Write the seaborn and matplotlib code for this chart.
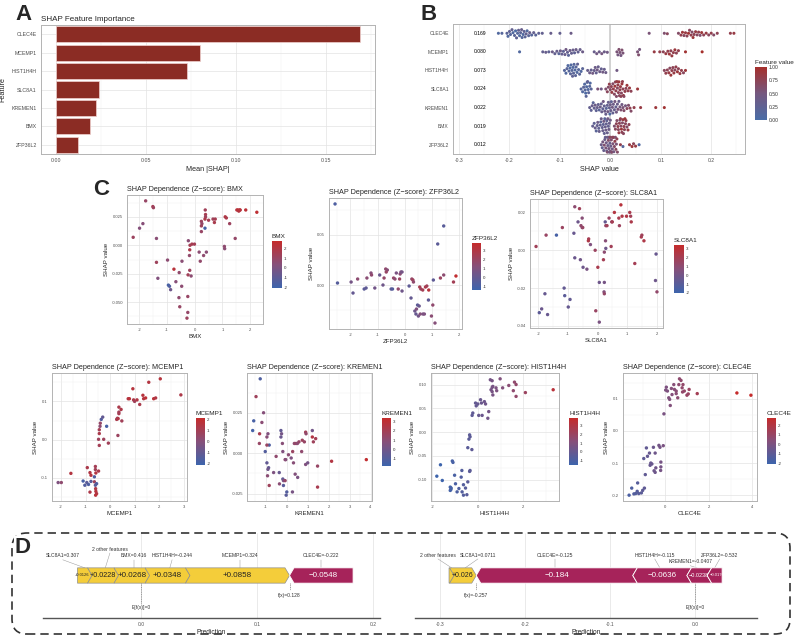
import numpy as np
import pandas as pd
import matplotlib as mpl
import matplotlib.pyplot as plt
import seaborn as sns
from matplotlib.colors import LinearSegmentedColormap, Normalize
from matplotlib.patches import Polygon, FancyBboxPatch
from matplotlib.ticker import MultipleLocator, AutoMinorLocator, FuncFormatter

# ---------------- data ----------------
features = ["CLEC4E", "MCEMP1", "HIST1H4H", "SLC8A1", "KREMEN1", "BMX", "ZFP36L2"]
mean_abs_shap = [0.169, 0.080, 0.073, 0.024, 0.022, 0.019, 0.012]

# beeswarm: (shap value, scaled feature value)
swarm_clec4e = [(-0.222, 0.1), (-0.215, 0.15), (-0.205, 0.2), (-0.203, 0.1), (-0.2, 0.25), (-0.198, 0.15),
                (-0.195, 0.3), (-0.193, 0.1), (-0.19, 0.2), (-0.188, 0.05), (-0.186, 0.25), (-0.184, 0.15),
                (-0.182, 0.3), (-0.18, 0.1), (-0.178, 0.2), (-0.176, 0.35), (-0.175, 0.15), (-0.173, 0.1),
                (-0.171, 0.25), (-0.169, 0.2), (-0.167, 0.3), (-0.165, 0.1), (-0.162, 0.2), (-0.16, 0.35),
                (-0.156, 0.15), (-0.152, 0.3), (-0.148, 0.2), (-0.142, 0.25), (-0.135, 0.3), (-0.118, 0.35),
                (-0.1, 0.3), (-0.078, 0.4),
                (0.077, 0.55), (0.107, 0.6), (0.113, 0.7), (0.135, 0.65), (0.14, 0.8), (0.143, 0.9),
                (0.146, 0.7), (0.149, 0.85), (0.152, 0.75), (0.155, 0.95), (0.157, 0.7), (0.16, 0.8),
                (0.162, 0.65), (0.164, 0.9), (0.166, 0.75), (0.169, 0.85), (0.172, 0.7), (0.175, 0.8),
                (0.178, 0.6), (0.181, 0.9), (0.185, 0.75), (0.19, 0.85), (0.195, 0.7), (0.2, 0.8),
                (0.205, 0.65), (0.212, 0.75), (0.238, 0.8), (0.245, 0.85)]
swarm_mcemp1 = [(-0.18, 0.1), (-0.134, 0.3), (-0.128, 0.35), (-0.122, 0.25), (-0.115, 0.4), (-0.11, 0.3),
                (-0.106, 0.35), (-0.102, 0.2), (-0.099, 0.4), (-0.096, 0.3), (-0.093, 0.25), (-0.09, 0.35),
                (-0.088, 0.45), (-0.085, 0.3), (-0.083, 0.2), (-0.08, 0.4), (-0.077, 0.3), (-0.074, 0.35),
                (-0.071, 0.25), (-0.068, 0.4), (-0.064, 0.3), (-0.06, 0.35), (-0.055, 0.4), (-0.032, 0.35),
                (-0.027, 0.45), (-0.022, 0.4), (-0.017, 0.5), (-0.012, 0.4), (-0.006, 0.45), (0.013, 0.55),
                (0.015, 0.5), (0.017, 0.6), (0.019, 0.55), (0.021, 0.5), (0.023, 0.6), (0.025, 0.55),
                (0.054, 0.55), (0.056, 0.6), (0.058, 0.5), (0.087, 0.85), (0.098, 0.8), (0.105, 0.75),
                (0.11, 0.85), (0.114, 0.8), (0.117, 0.9), (0.12, 0.75), (0.122, 0.85), (0.125, 0.8),
                (0.128, 0.9), (0.131, 0.75), (0.135, 0.8), (0.149, 0.95), (0.182, 1.0)]
swarm_hist1h4h = [(-0.091, 0.15), (-0.088, 0.1), (-0.086, 0.2), (-0.084, 0.1), (-0.082, 0.15), (-0.08, 0.05),
                  (-0.079, 0.2), (-0.078, 0.1), (-0.076, 0.15), (-0.075, 0.25), (-0.074, 0.1), (-0.073, 0.2),
                  (-0.072, 0.15), (-0.07, 0.1), (-0.069, 0.2), (-0.068, 0.15), (-0.066, 0.1), (-0.065, 0.25),
                  (-0.063, 0.15), (-0.061, 0.2), (-0.058, 0.1), (-0.055, 0.2),
                  (-0.045, 0.35), (-0.041, 0.4), (-0.038, 0.3), (-0.035, 0.45), (-0.032, 0.35), (-0.03, 0.4),
                  (-0.028, 0.3), (-0.026, 0.45), (-0.024, 0.35), (-0.021, 0.4), (-0.018, 0.3), (-0.015, 0.45),
                  (-0.012, 0.35), (-0.009, 0.4), (0.013, 0.45),
                  (0.107, 0.7), (0.11, 0.8), (0.113, 0.75), (0.116, 0.85), (0.118, 0.7), (0.12, 0.9),
                  (0.122, 0.8), (0.124, 0.75), (0.126, 0.85), (0.128, 0.7), (0.13, 0.8), (0.133, 0.9),
                  (0.135, 0.75), (0.138, 0.85), (0.141, 0.8), (0.145, 0.7), (0.149, 0.9)]
swarm_slc8a1 = [(-0.058, 0.15), (-0.055, 0.1), (-0.053, 0.2), (-0.051, 0.1), (-0.05, 0.15), (-0.049, 0.05),
                (-0.048, 0.2), (-0.047, 0.1), (-0.046, 0.15), (-0.045, 0.25), (-0.044, 0.1), (-0.043, 0.2),
                (-0.041, 0.15), (-0.04, 0.1), (-0.038, 0.2), (-0.025, 0.55), (-0.018, 0.45),
                (-0.009, 0.6), (-0.006, 0.7), (-0.004, 0.65), (-0.002, 0.8), (0.0, 0.7), (0.002, 0.75),
                (0.003, 0.85), (0.005, 0.65), (0.006, 0.8), (0.008, 0.7), (0.009, 0.9), (0.01, 0.75),
                (0.011, 0.8), (0.012, 0.65), (0.013, 0.85), (0.014, 0.7), (0.015, 0.8), (0.016, 0.75),
                (0.017, 0.9), (0.018, 0.7), (0.019, 0.8), (0.02, 0.85), (0.021, 0.75), (0.022, 0.7),
                (0.023, 0.9), (0.024, 0.8), (0.025, 0.75), (0.026, 0.85), (0.027, 0.7), (0.029, 0.8),
                (0.031, 0.75), (0.033, 0.9), (0.035, 0.8), (0.038, 0.85), (0.041, 0.75), (0.054, 0.9)]
swarm_kremen1 = [(-0.041, 0.3), (-0.038, 0.25), (-0.036, 0.35), (-0.034, 0.2), (-0.032, 0.3), (-0.03, 0.4),
                 (-0.028, 0.25), (-0.026, 0.35), (-0.024, 0.3), (-0.022, 0.2), (-0.02, 0.4), (-0.018, 0.3),
                 (-0.017, 0.35), (-0.015, 0.25), (-0.014, 0.45), (-0.012, 0.3), (-0.011, 0.4), (-0.009, 0.35),
                 (-0.008, 0.2), (-0.006, 0.3), (-0.005, 0.45), (-0.004, 0.35), (-0.002, 0.3), (-0.001, 0.1),
                 (0.0, 0.4), (0.001, 0.35), (0.002, 0.25), (0.004, 0.45), (0.005, 0.3), (0.006, 0.4),
                 (0.008, 0.35), (0.009, 0.5), (0.011, 0.3), (0.012, 0.45), (0.014, 0.4), (0.015, 0.55),
                 (0.017, 0.35), (0.019, 0.5), (0.021, 0.6), (0.023, 0.45), (0.025, 0.55), (0.027, 0.65),
                 (0.03, 0.5), (0.033, 0.7), (0.036, 0.6), (0.039, 0.75), (0.041, 0.65), (0.047, 0.8),
                 (0.06, 0.85), (0.09, 0.9), (0.107, 0.95)]
swarm_bmx = [(-0.035, 0.3), (-0.032, 0.25), (-0.03, 0.35), (-0.028, 0.2), (-0.026, 0.3), (-0.025, 0.4),
             (-0.023, 0.25), (-0.022, 0.35), (-0.02, 0.3), (-0.019, 0.2), (-0.018, 0.4), (-0.016, 0.3),
             (-0.015, 0.35), (-0.014, 0.25), (-0.013, 0.45), (-0.012, 0.3), (-0.011, 0.2), (-0.01, 0.35),
             (-0.009, 0.4), (-0.008, 0.3), (-0.007, 0.25), (-0.006, 0.35), (-0.005, 0.45), (-0.004, 0.3),
             (-0.003, 0.4), (-0.002, 0.35), (0.0, 0.4),
             (0.008, 0.6), (0.01, 0.7), (0.012, 0.75), (0.013, 0.65), (0.015, 0.8), (0.016, 0.7),
             (0.017, 0.85), (0.018, 0.75), (0.019, 0.6), (0.02, 0.8), (0.021, 0.7), (0.022, 0.9),
             (0.023, 0.75), (0.024, 0.65), (0.025, 0.85), (0.026, 0.7), (0.027, 0.8), (0.028, 0.75),
             (0.029, 0.9), (0.03, 0.7), (0.031, 0.8), (0.033, 0.65), (0.035, 0.85), (0.037, 0.75)]
swarm_zfp36l2 = [(-0.018, 0.4), (-0.016, 0.3), (-0.015, 0.5), (-0.013, 0.35), (-0.012, 0.6), (-0.011, 0.4),
                 (-0.01, 0.3), (-0.009, 0.55), (-0.008, 0.45), (-0.007, 0.35), (-0.006, 0.6), (-0.006, 0.5),
                 (-0.005, 0.4), (-0.004, 0.65), (-0.004, 0.3), (-0.003, 0.5), (-0.002, 0.45), (-0.002, 0.6),
                 (-0.001, 0.35), (0.0, 0.55), (0.0, 0.7), (0.001, 0.4), (0.002, 0.6), (0.002, 0.5),
                 (0.003, 0.65), (0.004, 0.45), (0.004, 0.7), (0.005, 0.55), (0.006, 0.6), (0.006, 0.75),
                 (0.007, 0.5), (0.008, 0.65), (0.009, 0.8), (0.01, 0.6), (0.011, 0.7), (0.012, 0.55),
                 (0.013, 0.75), (0.014, 0.65), (0.02, 0.8), (0.025, 0.15), (0.038, 0.85), (0.043, 0.9),
                 (0.046, 0.75), (0.05, 0.85), (0.057, 0.1)]

# dependence plots: (z-score, shap value, colour value); two-element points are coloured by x
dep_bmx = [(-1.77, 0.039, 1.0), (-1.51, 0.034, 1.5), (-1.49, 0.033, 1.2), (-1.87, 0.019, 0.4), (-1.99, 0.015, 0.3),
           (-2.22, 0.007, 1.2), (-1.38, 0.006, 0.5), (-1.38, -0.015, 1.3), (-1.33, -0.029, 0.2), (-0.98, -0.013, 0.6),
           (-0.75, -0.021, 2.3), (-0.95, -0.035, -1.8), (-0.91, -0.036, -1.5), (-0.87, -0.039, -0.5),
           (-0.68, -0.032, 0.4), (-0.56, -0.024, 0.8), (-0.46, -0.014, 0.5), (-0.47, -0.036, 0.6),
           (-0.57, -0.046, 0.7), (-0.54, -0.054, 1.0), (-0.23, 0.004, 0.5), (-0.17, 0.0, 1.5), (-0.18, -0.004, 1.8),
           (-0.19, -0.009, 0.8), (-0.18, -0.022, 1.2), (-0.13, -0.027, 0.6), (-0.24, -0.026, 1.4),
           (-0.25, -0.045, 1.0), (-0.25, -0.059, 0.9), (-0.28, -0.064, 1.2), (-0.10, 0.001, 1.6), (-0.01, 0.001, 1.5),
           (0.16, -0.006, 0.6), (0.20, -0.014, 0.8), (0.24, 0.021, 1.2), (0.26, 0.019, 0.9), (0.24, 0.017, 1.3),
           (0.24, 0.012, 1.0), (0.37, 0.015, -1.8), (0.32, -0.009, 0.7), (0.42, -0.006, 0.5), (0.38, 0.031, 1.4),
           (0.39, 0.027, 1.6), (0.39, 0.025, 1.2), (0.37, 0.023, 1.8), (0.50, 0.022, 1.5), (0.66, 0.023, 1.3),
           (0.71, 0.020, 1.7), (0.74, 0.023, 1.6), (1.08, -0.003, 0.5), (1.07, -0.001, 0.7), (1.10, 0.025, 2.0),
           (1.14, 0.024, 1.8), (1.26, 0.019, 1.2), (1.46, 0.006, 0.9), (1.52, 0.031, 2.2), (1.56, 0.031, 2.4),
           (1.59, 0.030, 2.1), (1.62, 0.031, 2.3), (1.64, 0.031, 2.2), (1.84, 0.031, 2.4), (2.24, 0.029, 2.5)]
dep_zfp36l2 = [(-2.56, 0.081, -0.8), (-2.47, 0.002, -0.5), (-1.97, 0.003, 0.6), (-1.90, -0.008, 0.0),
               (-1.73, 0.006, 1.5), (-1.49, -0.004, -0.3), (-1.42, -0.003, -0.2), (-1.39, 0.007, 1.4),
               (-1.24, 0.012, 1.2), (-1.22, 0.010, 1.6), (-1.10, -0.003, 0.5), (-0.92, 0.010, 0.2), (-0.80, 0.000, 0.4),
               (-0.76, 0.007, 1.8), (-0.70, 0.016, 1.6), (-0.64, 0.015, 1.3), (-0.68, 0.013, 1.9), (-0.50, -0.004, -0.3),
               (-0.45, -0.004, -0.5), (-0.41, 0.007, 1.8), (-0.36, 0.006, 1.5), (-0.31, 0.012, 0.8), (-0.24, -0.004, 1.7),
               (-0.19, 0.006, 2.0), (-0.17, 0.011, 1.4), (-0.14, 0.013, 0.9), (-0.10, 0.013, 0.6), (-0.10, -0.006, 0.4),
               (0.16, -0.001, -0.2), (0.23, -0.013, 0.0), (0.26, 0.006, 1.8), (0.30, 0.005, 2.2), (0.32, 0.003, 1.6),
               (0.37, -0.026, 0.3), (0.41, -0.029, 0.1), (0.43, -0.024, 1.0), (0.47, -0.020, -0.3), (0.53, -0.021, 0.2),
               (0.55, -0.002, 2.6), (0.59, -0.004, 2.2), (0.66, -0.005, 2.4), (0.50, -0.031, 0.5), (0.57, -0.029, 1.2),
               (0.67, -0.029, 0.8), (0.76, -0.002, 2.8), (0.81, -0.001, 2.3), (0.88, -0.005, 3.2), (0.72, -0.029, 0.9),
               (0.87, -0.015, -0.2), (0.98, -0.031, 1.4), (1.03, -0.020, 1.6), (1.05, 0.005, -0.2), (1.11, -0.038, 1.2),
               (1.21, 0.041, -0.3), (1.31, 0.007, 2.0), (1.43, 0.010, 1.5), (1.43, 0.059, -0.4), (1.79, 0.003, 2.4),
               (1.88, 0.009, 3.6)]
dep_slc8a1 = [(-2.08, 0.002, 1.8), (-1.74, 0.008, 1.5), (-1.39, 0.008, -1.6), (-1.78, -0.023, -0.5),
              (-1.89, -0.031, -0.3), (-1.97, -0.033, -0.8), (-1.69, -0.034, -0.4), (-1.13, -0.020, -0.6),
              (-1.11, -0.024, -0.9), (-0.93, -0.026, -0.6), (-0.99, -0.030, -0.5), (-1.19, 0.012, 1.6),
              (-0.77, 0.023, 1.0), (-0.61, 0.022, 1.8), (-0.80, 0.009, -0.4), (-0.66, 0.015, -0.2), (-0.52, 0.017, 0.8),
              (-0.56, 0.013, 1.2), (-0.52, 0.012, 0.9), (-0.50, 0.012, 1.4), (-0.77, -0.004, -0.3), (-0.58, -0.005, -0.1),
              (-0.49, -0.009, -0.2), (-0.36, -0.010, 0.2), (-0.30, 0.006, 2.0), (-0.31, 0.005, 2.4), (-0.24, 0.003, 0.5),
              (-0.08, 0.000, 1.6), (0.01, -0.009, 2.2), (-0.06, -0.032, 1.5), (0.06, -0.038, 0.3), (0.06, -0.017, -0.2),
              (0.20, -0.005, 2.0), (0.23, -0.001, 1.0), (0.26, 0.015, -0.5), (0.28, 0.013, 1.2), (0.27, 0.005, 0.8),
              (0.28, 0.001, -0.2), (0.23, -0.017, 0.1), (0.22, -0.022, 0.6), (0.23, -0.023, 1.3), (0.32, 0.013, 1.8),
              (0.39, 0.017, 1.5), (0.46, 0.002, 1.9), (0.48, 0.015, 1.4), (0.50, 0.015, 2.0), (0.57, 0.020, 2.6),
              (0.72, 0.017, 2.1), (0.74, 0.013, 1.7), (0.79, 0.024, 2.8), (0.83, 0.018, 2.4), (0.98, 0.018, 2.5),
              (1.09, 0.020, 2.2), (1.12, 0.018, 1.9), (1.14, 0.015, 2.3), (1.26, -0.007, 2.0), (1.48, 0.007, 2.1),
              (1.50, 0.008, 1.8), (1.57, 0.005, 2.4), (1.98, -0.002, -0.4), (1.96, -0.016, -0.2), (2.01, -0.022, 1.2)]
dep_mcemp1 = [(-2.12, -0.112, -0.2), (-1.99, -0.112, 0.3), (-1.60, -0.088, 1.5), (-1.10, -0.108, -1.8),
              (-1.03, -0.119, -1.5), (-0.95, -0.112, -1.2), (-0.88, -0.117, -1.6), (-0.78, -0.109, -1.4),
              (-0.93, -0.073, 1.2), (-0.82, -0.086, 1.4), (-0.78, -0.093, 1.6), (-0.64, -0.097, -1.5),
              (-0.82, -0.137, 1.3), (-0.64, -0.110, 0.8), (-0.60, -0.070, 1.0), (-0.60, -0.078, 0.9),
              (-0.58, -0.087, 1.5), (-0.47, -0.082, 1.2), (-0.59, -0.128, 1.3), (-0.58, -0.135, 1.6),
              (-0.55, -0.141, 1.4), (-0.59, -0.145, 1.7), (-0.55, -0.115, -1.6), (-0.60, -0.119, -1.3),
              (-0.44, -0.015, 1.0), (-0.47, 0.001, 0.8), (-0.44, 0.016, 1.2), (-0.44, 0.026, 1.0), (-0.41, 0.035, 0.2),
              (-0.40, 0.043, 0.5), (-0.36, 0.053, -1.5), (-0.30, 0.059, -1.0), (-0.26, 0.001, 0.8), (-0.14, 0.035, -1.8),
              (-0.07, -0.009, 0.9), (0.27, 0.053, 1.2), (0.30, 0.056, 0.8), (0.33, 0.055, 1.4), (0.36, 0.068, 1.1),
              (0.36, 0.085, 1.2), (0.36, 0.072, 0.9), (0.32, 0.011, 0.7), (0.45, 0.079, 1.3), (0.48, 0.049, 0.9),
              (0.74, 0.107, 1.5), (0.79, 0.107, 1.7), (0.93, 0.133, 1.6), (0.96, 0.104, 1.3), (1.00, 0.100, 0.9),
              (1.10, 0.104, 1.4), (1.21, 0.092, 1.2), (1.34, 0.116, 1.6), (1.37, 0.107, 1.5), (1.45, 0.109, 1.8),
              (1.58, 0.150, 1.5), (1.78, 0.107, 1.7), (1.86, 0.109, 1.4), (2.05, 0.159, 1.6), (2.89, 0.117, 1.3)]
dep_kremen1 = [(-1.27, 0.046, -1.2), (-1.47, 0.035, 1.8), (-1.11, 0.025, 0.8), (-1.58, 0.020, -1.4),
               (-1.63, 0.014, -1.5), (-1.19, 0.019, 1.0), (-1.30, 0.012, 2.2), (-1.31, 0.006, 1.5), (-1.03, 0.001, -1.0),
               (-0.84, 0.005, -1.2), (-0.95, 0.005, 1.6), (-0.95, 0.010, 0.9), (-0.90, 0.012, 0.6), (-0.95, -0.006, -0.5),
               (-0.87, -0.009, -0.4), (-0.90, -0.010, 0.0), (-0.92, -0.014, 1.0), (-0.84, -0.020, 1.8),
               (-0.63, -0.012, 0.5), (-0.51, -0.002, 1.2), (-0.36, -0.012, -0.3), (-0.35, -0.019, 1.0),
               (-0.28, 0.014, -0.5), (-0.25, 0.012, 0.2), (-0.28, 0.010, -0.2), (-0.21, 0.006, 0.9), (-0.19, 0.001, 0.6),
               (-0.19, -0.016, -0.5), (-0.16, -0.017, 0.3), (-0.16, -0.020, -0.8), (-0.08, -0.004, 1.2),
               (-0.05, -0.004, 0.8), (-0.08, -0.017, 1.4), (0.0, -0.024, -1.0), (-0.03, -0.026, -0.8), (0.08, -0.001, 1.0),
               (0.21, -0.003, 0.5), (0.28, 0.001, 1.6), (0.27, -0.024, 0.3), (0.32, -0.006, 0.9), (0.36, 0.006, 1.2),
               (0.44, 0.006, 1.5), (0.51, 0.006, 1.0), (0.40, -0.013, 0.7), (0.52, -0.015, 0.4), (0.58, 0.007, 1.4),
               (0.71, 0.001, 1.2), (0.74, 0.008, 1.7), (0.84, 0.007, 1.5), (0.90, 0.013, 1.9), (0.92, 0.012, 1.3),
               (0.90, -0.007, 0.6), (1.00, -0.006, 0.2), (1.22, 0.014, 0.1), (1.22, 0.010, 2.6), (1.27, 0.007, 1.8),
               (1.38, 0.009, 2.0), (1.47, -0.008, 1.5), (1.47, -0.021, 2.2), (2.14, -0.005, 2.6), (3.80, -0.004, 3.2)]
dep_hist1h4h = [(-1.80, -0.093), (-1.64, -0.069), (-1.56, -0.102), (-1.12, -0.061), (-1.09, -0.064), (-1.21, -0.116),
                (-1.18, -0.121), (-1.21, -0.123), (-1.17, -0.118), (-1.02, -0.091), (-0.98, -0.109), (-0.91, -0.126),
                (-0.83, -0.119), (-0.70, -0.081), (-0.73, -0.095), (-0.63, -0.111), (-0.69, -0.126), (-0.63, -0.133),
                (-0.54, -0.118), (-0.48, -0.132), (-0.44, -0.105), (-0.34, -0.081), (-0.36, -0.083), (-0.44, -0.033),
                (-0.26, -0.037), (-0.36, -0.006), (-0.34, -0.010), (-0.39, -0.015), (-0.22, 0.040), (-0.25, 0.035),
                (-0.10, 0.061), (-0.07, 0.055), (0.0, 0.059), (0.04, 0.035), (0.12, 0.068), (0.16, 0.061), (0.19, 0.035),
                (0.29, 0.064), (0.34, 0.059), (0.44, 0.029), (0.48, 0.043), (0.55, 0.110), (0.63, 0.108), (0.58, 0.089),
                (0.63, 0.094), (0.66, 0.096), (0.63, 0.085), (0.66, 0.078), (0.80, 0.093), (0.83, 0.087), (0.98, 0.112),
                (1.09, 0.093), (1.36, 0.098), (1.61, 0.105), (1.68, 0.100), (1.56, 0.087), (1.68, 0.075), (2.09, 0.083),
                (3.31, 0.089)]
dep_clec4e = [(-1.63, -0.200), (-1.51, -0.178), (-1.41, -0.196), (-1.33, -0.195), (-1.26, -0.188), (-1.19, -0.195),
              (-1.24, -0.162), (-1.07, -0.193), (-1.01, -0.185), (-0.93, -0.178), (-0.89, -0.136), (-0.96, -0.086),
              (-0.84, -0.053), (-0.79, -0.079), (-0.70, -0.069), (-0.67, -0.107), (-0.59, -0.103), (-0.64, -0.100),
              (-0.52, -0.051), (-0.44, -0.069), (-0.49, -0.124), (-0.44, -0.129), (-0.41, -0.115), (-0.27, -0.045),
              (-0.22, -0.051), (-0.18, -0.097), (-0.18, -0.112), (-0.19, -0.123), (-0.07, -0.046), (-0.04, 0.053),
              (0.07, 0.136), (0.04, 0.127), (0.12, 0.124), (0.18, 0.103), (0.22, 0.098), (0.30, 0.132), (0.33, 0.113),
              (0.25, 0.079), (0.41, 0.144), (0.44, 0.129), (0.52, 0.116), (0.52, 0.124), (0.59, 0.103), (0.64, 0.144),
              (0.67, 0.162), (0.74, 0.157), (0.79, 0.134), (0.81, 0.121), (0.83, 0.144), (0.89, 0.124), (1.01, 0.111),
              (1.07, 0.115), (1.11, 0.129), (1.48, 0.116), (3.29, 0.118), (3.93, 0.111)]

# force plots
force_left_labels = ["SLC8A1=0.307", "2 other features", "BMX=0.416", "HIST1H4H=-0.244", "MCEMP1=0.324", "CLEC4E=-0.222"]
force_left_values = [0.0126, 0.0228, 0.0268, 0.0348, 0.0858, -0.0548]
force_left_fx = 0.128
force_right_labels = ["2 other features", "SLC8A1=0.0711", "CLEC4E=-0.125", "HIST1H4H=-0.115", "KREMEN1=-0.0407", "ZFP36L2=-0.532"]
force_right_values = [0.006, 0.026, -0.184, -0.0636, -0.0238, -0.0176]
force_right_fx = -0.257
force_base = 0.0

# ---------------- style ----------------
sns.set_theme(style="white")
plt.rcParams['font.family'] = ['Liberation Sans', 'DejaVu Sans']

W, H = 798, 638


def px(l, t, r, b):
    return [l / W, 1 - b / H, (r - l) / W, (b - t) / H]


def fmt(dec):
    def f(v, p):
        if abs(v) < 1e-10:
            v = 0.0
        return f"{v:.{dec}f}"
    return FuncFormatter(f)


def style_bw(ax, tick_size=3.6, minor_x=True, minor_y=True):
    ax.set_facecolor('white')
    for s in ax.spines.values():
        s.set_visible(True)
        s.set_color('#b3b3b3')
        s.set_linewidth(0.7)
    if minor_x:
        ax.xaxis.set_minor_locator(AutoMinorLocator(2))
    if minor_y:
        ax.yaxis.set_minor_locator(AutoMinorLocator(2))
    ax.grid(True, which='major', color='#e3e3e3', lw=0.5)
    ax.grid(True, which='minor', color='#f2f2f2', lw=0.35)
    ax.set_axisbelow(True)
    ax.tick_params(which='major', length=1.8, width=0.4, color='#4d4d4d',
                   labelsize=tick_size, labelcolor='#4d4d4d', pad=1.2)
    ax.tick_params(which='minor', length=0)


cmap_b = LinearSegmentedColormap.from_list('fv', ['#4A6DA7', '#75587F', '#A52F2B'])
cmap_c = LinearSegmentedColormap.from_list('z', ['#3D64AC', '#86507A', '#C52B2B'])

fig = plt.figure(figsize=(7.98, 6.38), dpi=100)

# ---------------- A: importance bars ----------------
axA = fig.add_axes(px(41, 25, 375, 154))
dfA = pd.DataFrame({'feature': features, 'value': mean_abs_shap})
sns.barplot(data=dfA, x='value', y='feature', order=features, color='#8B2C24', saturation=1,
            edgecolor='#f0d2cf', linewidth=0.5, width=0.88, ax=axA)
style_bw(axA, tick_size=3.8, minor_y=False)
axA.set_xlim(-0.05 * max(mean_abs_shap), 1.05 * max(mean_abs_shap))
axA.xaxis.set_major_locator(MultipleLocator(0.05))
axA.xaxis.set_major_formatter(fmt(2))
axA.set_title("SHAP Feature Importance", loc='left', fontsize=5.8, pad=3)
axA.set_xlabel("Mean |SHAP|", fontsize=5.2, labelpad=2)
axA.set_ylabel("Feature", fontsize=5.2, labelpad=4)

# ---------------- B: beeswarm ----------------
swarm_sets = [swarm_clec4e, swarm_mcemp1, swarm_hist1h4h, swarm_slc8a1, swarm_kremen1, swarm_bmx, swarm_zfp36l2]
rows = [(f, s, v) for f, pts in zip(features, swarm_sets) for s, v in pts]
dfB = pd.DataFrame(rows, columns=['feature', 'shap', 'fv'])
axB = fig.add_axes(px(453, 24, 745, 154))
style_bw(axB, tick_size=3.6, minor_y=False)
axB.axvline(0, color='#d0d0d0', lw=1.3, zorder=1)
sns.swarmplot(data=dfB, x='shap', y='feature', order=features, hue='fv', palette=cmap_b,
              hue_norm=(0, 1), size=2.2, linewidth=0, legend=False, ax=axB, warn_thresh=1)
for i, v in enumerate(mean_abs_shap):
    axB.text(-0.258, i, f"{v:.3f}", fontsize=3.6, ha='center', va='center', color='black')
axB.set_xlim(-0.312, 0.267)
axB.xaxis.set_major_locator(MultipleLocator(0.1))
axB.xaxis.set_minor_locator(AutoMinorLocator(2))
axB.xaxis.set_major_formatter(fmt(1))
axB.set_xlabel("SHAP value", fontsize=5.2, labelpad=2)
axB.set_ylabel("")
caxB = fig.add_axes(px(755, 67, 767, 120))
cbB = mpl.colorbar.ColorbarBase(caxB, cmap=cmap_b, norm=Normalize(0, 1))
cbB.outline.set_visible(False)
cbB.set_ticks([0, 0.25, 0.5, 0.75, 1.0])
caxB.yaxis.set_major_formatter(fmt(2))
caxB.tick_params(labelsize=3.6, length=1.5, width=0.4, color='white', direction='in', pad=1.5, labelcolor='#333333')
caxB.set_title("Feature value", fontsize=4.6, loc='left', pad=2.5)

# ---------------- C: dependence plots ----------------
dep_specs = [
    ("BMX", dep_bmx, (127, 195, 263, 324), (272, 241, 282, 288), (-2.1, 2.8), 1, 0.025, 3),
    ("ZFP36L2", dep_zfp36l2, (329, 198, 462, 329), (472, 243, 481, 290), (-1.4, 3.8), 1, 0.05, 2),
    ("SLC8A1", dep_slc8a1, (530, 199, 663, 328), (674, 245, 684, 293), (-2.0, 3.4), 1, 0.02, 2),
    ("MCEMP1", dep_mcemp1, (52, 373, 187, 501), (196, 418, 205, 465), (-2.1, 2.1), 1, 0.1, 1),
    ("KREMEN1", dep_kremen1, (247, 373, 372, 501), (382, 418, 391, 466), (-1.8, 3.4), 1, 0.025, 3),
    ("HIST1H4H", dep_hist1h4h, (431, 373, 559, 501), (569, 418, 578, 465), (-1.5, 3.85), 2, 0.05, 2),
    ("CLEC4E", dep_clec4e, (623, 373, 757, 501), (767, 418, 776, 464), (-2.1, 2.8), 2, 0.1, 1),
]
for name, pts, rect, crect, lims, xstep, ystep, ydec in dep_specs:
    ax = fig.add_axes(px(*rect))
    df = pd.DataFrame({'x': [p[0] for p in pts], 'y': [p[1] for p in pts],
                       'c': [p[2] if len(p) > 2 else p[0] for p in pts]})
    style_bw(ax, tick_size=3.0)
    sns.scatterplot(data=df, x='x', y='y', hue='c', palette=cmap_c, hue_norm=lims, s=6,
                    linewidth=0, legend=False, ax=ax)
    ax.xaxis.set_major_locator(MultipleLocator(xstep))
    ax.yaxis.set_major_locator(MultipleLocator(ystep))
    ax.xaxis.set_minor_locator(AutoMinorLocator(2))
    ax.yaxis.set_minor_locator(AutoMinorLocator(2))
    ax.xaxis.set_major_formatter(fmt(0))
    ax.yaxis.set_major_formatter(fmt(ydec))
    ax.set_title(f"SHAP Dependence (Z\u2212score): {name}", loc='left', fontsize=5.2, pad=3)
    ax.set_xlabel(name, fontsize=4.4, labelpad=1.5)
    ax.set_ylabel("SHAP value", fontsize=4.4, labelpad=2)
    cax = fig.add_axes(px(*crect))
    cb = mpl.colorbar.ColorbarBase(cax, cmap=cmap_c, norm=Normalize(*lims))
    cb.outline.set_visible(False)
    cb.set_ticks(np.arange(np.ceil(lims[0]), np.floor(lims[1]) + 1))
    cax.yaxis.set_major_formatter(fmt(0))
    cax.tick_params(labelsize=3.2, length=1.5, width=0.4, color='white', direction='in', pad=1.5,
                    labelcolor='#333333')
    cax.set_title(name, fontsize=4.6, loc='left', pad=2.5)

# ---------------- D: force plots ----------------
YEL, MAG = '#F4CD3A', '#A6235A'


def force_plot(ax, labels, values, fx, base, xlim, width_px, label_dx, label_y):
    ax.set_xlim(*xlim)
    ax.set_ylim(0, 1)
    ppu = width_px / (xlim[1] - xlim[0])
    d = 4.5 / ppu
    trans = ax.get_xaxis_transform()
    yc, hh = 0.5, 0.09
    top, bot = yc + hh, yc - hh
    pos_idx = [i for i, v in enumerate(values) if v > 0]
    neg_idx = [i for i, v in enumerate(values) if v < 0]
    segs = {}
    x = fx - sum(values[i] for i in pos_idx)
    for i in pos_idx:
        segs[i] = (x, x + values[i])
        x += values[i]
    x = fx
    for i in neg_idx:
        segs[i] = (x, x - values[i])
        x -= values[i]
    for k, i in enumerate(pos_idx):
        a, b = segs[i]
        if k == 0:
            xy = [(a, top), (b - d, top), (b, yc), (b - d, bot), (a, bot)]
        else:
            xy = [(a - d, top), (b - d, top), (b, yc), (b - d, bot), (a - d, bot), (a, yc)]
        ax.add_patch(Polygon(xy, closed=True, transform=trans, fc=YEL, ec='#8f8f8f', lw=0.5, zorder=3))
    for k, i in enumerate(neg_idx):
        a, b = segs[i]
        if k == len(neg_idx) - 1:
            xy = [(a, yc), (a + d, top), (b, top), (b, bot), (a + d, bot)]
        else:
            xy = [(a, yc), (a + d, top), (b + d, top), (b, yc), (b + d, bot), (a + d, bot)]
        ax.add_patch(Polygon(xy, closed=True, transform=trans, fc=MAG, ec='white', lw=0.6, zorder=3))
    for i, (lab, v) in enumerate(zip(labels, values)):
        a, b = segs[i]
        c = (a + b) / 2
        wpx = abs(v) * ppu
        txt = f"{v:+.3g}".replace('-', '\u2212')
        if wpx > 8:
            fs = min(5.8, 1.05 * wpx / (len(txt) * 0.55 * 1.389))
            ax.text(c + (d / 2 if v < 0 else -d / 2), yc, txt, transform=trans, ha='center', va='center',
                    fontsize=fs, color='#222222' if v > 0 else 'white', zorder=4)
        lx, ly = c + label_dx[i], label_y[i]
        ax.text(lx, ly, lab, transform=trans, ha='center', va='center', fontsize=3.6, color='#333333')
        ax.plot([lx, c], [ly - 0.045, top], transform=trans, color='#999999', lw=0.35)
    ax.plot([fx, fx], [bot, 0.33], transform=trans, color='#777777', lw=0.5, ls=(0, (1.5, 1)))
    ax.text(fx, 0.27, f"f(x)={fx:g}", transform=trans, ha='center', va='center', fontsize=3.6, color='#333333')
    ax.plot([base, base], [bot, 0.17], transform=trans, color='#777777', lw=0.5, ls=(0, (1.5, 1)))
    ax.text(base, 0.12, f"E[f(x)]={base:g}", transform=trans, ha='center', va='center', fontsize=3.6,
            color='#333333')
    for s in ['top', 'left', 'right']:
        ax.spines[s].set_visible(False)
    ax.spines['bottom'].set_color('#555555')
    ax.spines['bottom'].set_linewidth(1.0)
    ax.set_yticks([])
    ax.xaxis.set_major_locator(MultipleLocator(0.1))
    ax.xaxis.set_major_formatter(fmt(1))
    ax.grid(True, axis='x', color='#e2e2e2', lw=0.5)
    ax.set_axisbelow(True)
    ax.tick_params(axis='x', labelsize=3.6, length=1.5, width=0.4, color='#555555', labelcolor='#555555', pad=1.5)
    ax.set_xlabel("Prediction", fontsize=4.8, labelpad=1)
    ax.set_facecolor('none')


axL = fig.add_axes(px(43, 533, 380, 618))
force_plot(axL, force_left_labels, force_left_values, force_left_fx, force_base,
           (-0.0845, 0.206), 337, [-0.019, 0.004, 0.0, 0.002, 0.0, 0.0], [0.73, 0.81, 0.73, 0.73, 0.73, 0.73])
axR = fig.add_axes(px(415, 533, 757, 618))
force_plot(axR, force_right_labels, force_right_values, force_right_fx, force_base,
           (-0.329, 0.073), 342, [-0.016, 0.015, 0.0, -0.006, -0.008, 0.006], [0.74, 0.74, 0.74, 0.74, 0.66, 0.74])

box = FancyBboxPatch((0.12, 0.04), 7.78, 1.01, boxstyle="round,pad=0,rounding_size=0.15",
                     transform=fig.dpi_scale_trans, fill=False, ec='#333333', lw=1.2, ls=(0, (5, 3)))
fig.add_artist(box)

# panel letters
fig.text(15 / W, 1 - 20 / H, "A", fontsize=16, fontweight='bold', va='baseline')
fig.text(420 / W, 1 - 20 / H, "B", fontsize=16, fontweight='bold', va='baseline')
fig.text(93 / W, 1 - 195 / H, "C", fontsize=16, fontweight='bold', va='baseline')
fig.text(15 / W, 1 - 553 / H, "D", fontsize=16, fontweight='bold', va='baseline',
         bbox=dict(fc='white', ec='none', pad=0.5))

fig.savefig("out.png", dpi=100)
